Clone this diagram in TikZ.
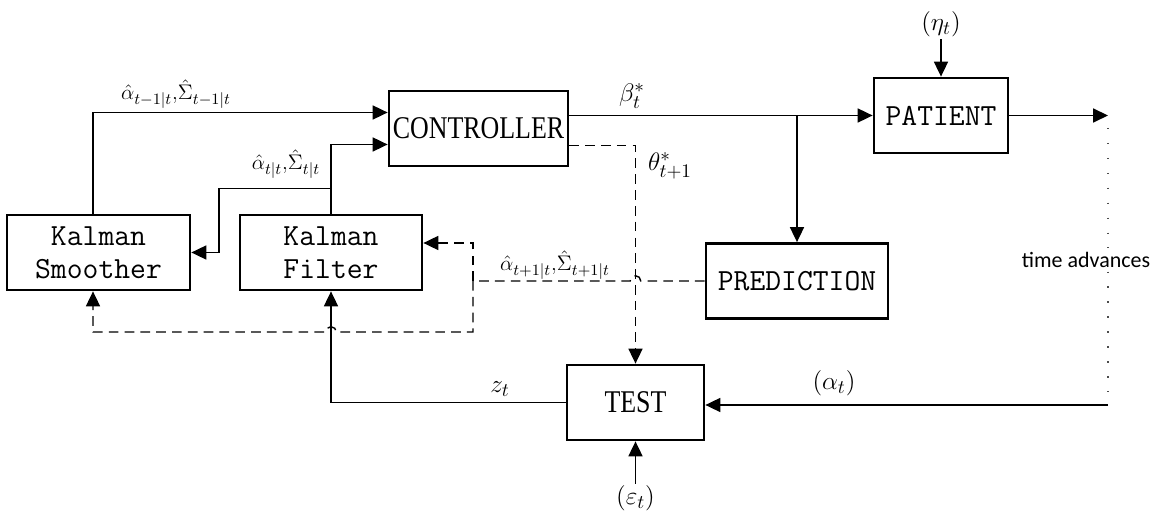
\documentclass[tikz,border=0pt]{standalone}
\usepackage{fontspec}
\usepackage{amsmath}
\usepackage{graphicx}
\usetikzlibrary{arrows.meta}
\usetikzlibrary{positioning}
\newfontfamily\timesfont{Liberation Serif}
\newfontfamily\calfont{Carlito}
\newcommand{\monobox}{\ttfamily\fontsize{17.5}{19}\selectfont}
\newcommand{\narrowtxt}[1]{\scalebox{0.82}[1]{\timesfont\fontsize{18}{20}\selectfont #1}}

\begin{document}
\begin{tikzpicture}[x=0.02cm,y=-0.02cm,
  blk/.style={draw,line width=1.6pt,minimum height=1.5cm,inner sep=0pt,align=center},
  ln/.style={line width=0.8pt,-{Triangle[length=8.5pt,width=8pt]}},
  dsh/.style={line width=0.8pt,dash pattern=on 5.5pt off 3.5pt},
  dotln/.style={line width=1pt,black!70,dash pattern=on 0.8pt off 7.7pt},
  lbl/.style={inner sep=1pt,font=\fontsize{15}{17}\selectfont},
  hatlbl/.style={inner sep=1pt,font=\fontsize{13}{15}\selectfont}]
  \useasboundingbox (0,0) rectangle (1171,516);

  \node[blk,minimum width=3.66cm,font=\monobox] (ks) at (98.5,252.5) {Kalman\\Smoother};
  \node[blk,minimum width=3.64cm,font=\monobox] (kf) at (331,252.5) {Kalman\\Filter};
  \node[blk,minimum width=3.58cm] (ctrl) at (478.5,128.5) {\narrowtxt{CONTROLLER}};
  \node[blk,minimum width=2.68cm,font=\monobox] (pat) at (941,115.5) {PATIENT};
  \node[blk,minimum width=3.64cm,font=\monobox] (pred) at (797,281) {PREDICTION};
  \node[blk,minimum width=2.74cm] (test) at (635.5,402.5) {\narrowtxt{TEST}};

  \node[lbl,above=0.75cm of pat] (eta) {$(\eta_t)$};
  \node[lbl,below=0.85cm of test] (eps) {$(\varepsilon_t)$};

  \coordinate (pout) at (1108,115.5);
  \coordinate (pin) at (1108,405);
  \node[inner sep=2pt,font=\calfont\fontsize{12.5}{14}\selectfont] (time) at (1086,260) {time advances};

  \node[hatlbl] (ksl) at (176,94) {$\hat{\alpha}_{t-1|t},\!\hat{\Sigma}_{t-1|t}$};
  \node[hatlbl] (kfl) at (286,164) {$\hat{\alpha}_{t|t},\!\hat{\Sigma}_{t|t}$};
  \node[lbl] (beta) at (632,96) {$\beta_t^*$};
  \node[lbl] (theta) at (670,166) {$\theta_{t+1}^*$};
  \node[hatlbl] (predl) at (555,265) {$\hat{\alpha}_{t+1|t},\!\hat{\Sigma}_{t+1|t}$};
  \node[lbl] (zl) at (500,389) {$z_t$};
  \node[lbl] (alpha) at (834,383) {$(\alpha_t)$};

  \draw[ln] ([xshift=-0.11cm]ks.north) |- ([yshift=0.32cm]ctrl.west);
  \draw[ln] (kf.north) |- ([yshift=-0.32cm]ctrl.west);
  \coordinate (kfup) at ([yshift=0.5cm]kf.north);
  \draw[ln] (kfup) -- ++(-112,0) |- (ks.east);
  \draw[ln] (ctrl.east |- pat.west) -- (pat.west);
  \draw[ln] (pred.north |- pat.west) -- (pred.north);
  \draw[ln,dsh] ([yshift=-0.34cm]ctrl.east) -| (test.north);
  \draw[ln] (pat.east) -- (pout);
  \draw[dotln] ([yshift=-0.25cm]pout) -- (time.north -| pin);
  \draw[dotln] (time.south -| pin) -- (pin);
  \draw[ln] (pin) -- (pin -| test.east);
  \draw[ln] (test.west) -| (kf.south);
  \draw[ln] (eta) -- (pat.north);
  \draw[ln] (eps) -- (test.south);

  \coordinate (pj) at (473,281);
  \draw[dsh] (pred.west) -- ([xshift=3pt]test.north |- pred.west)
    arc[start angle=0,end angle=180,radius=3pt] -- (pj);
  \draw[ln,dsh] (pj) |- ([yshift=0.19cm]kf.east);
  \draw[ln,dsh] (pj) -- (pj |- 0,332) -- ([xshift=3pt]kf.south |- 0,332)
    arc[start angle=0,end angle=180,radius=3pt] -| ([xshift=-0.11cm]ks.south);
\end{tikzpicture}
\end{document}
